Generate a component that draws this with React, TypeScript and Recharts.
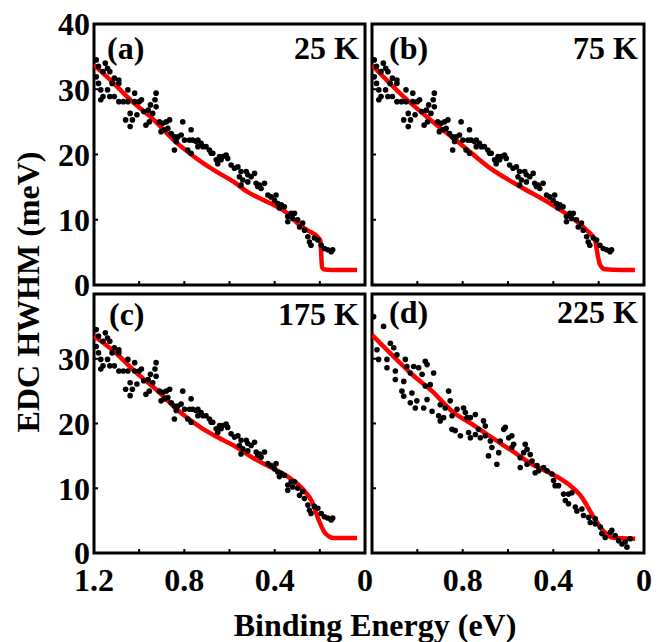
import React from 'react';
import { ComposedChart, Scatter, Line, XAxis, YAxis, ReferenceArea } from 'recharts';

const FONT = '"Liberation Serif", "Times New Roman", serif';

// tick values (binding energy in eV, width in meV)
const energyTicks = [0, 0.2, 0.4, 0.6, 0.8, 1.0, 1.2];
const widthTicks = [0, 10, 20, 30, 40];

// measured EDC widths, shared by the 25 K, 75 K and 175 K panels
const lowTPoints = [
  [1.19, 34.5], [1.18, 33.5], [1.15, 34.0], [1.16, 32.7], [1.13, 32.7], [1.14, 33.2], [1.19, 31.9],
  [1.18, 30.9], [1.17, 29.9], [1.16, 28.9], [1.17, 28.4], [1.14, 29.9], [1.12, 30.9], [1.11, 31.7],
  [1.09, 30.9], [1.09, 31.4], [1.13, 28.9], [1.11, 28.9], [1.09, 28.1], [1.07, 28.1], [1.05, 29.9],
  [1.05, 28.1], [1.02, 29.4], [1.02, 28.1], [1.0, 28.1], [0.99, 28.4], [1.04, 26.3], [1.06, 25.3],
  [1.03, 25.3], [1.04, 24.3], [1.01, 26.1], [0.98, 26.6], [0.96, 26.8], [0.95, 27.6], [0.93, 28.4],
  [0.925, 29.4], [0.925, 27.3], [0.94, 26.3], [0.97, 24.5], [0.955, 25.0], [0.91, 25.0], [0.895, 24.8],
  [0.88, 25.0], [0.865, 25.3], [0.888, 23.8], [0.873, 24.0], [0.903, 23.5], [0.858, 23.2], [0.844, 22.7],
  [0.829, 22.7], [0.807, 25.0], [0.814, 23.0], [0.836, 22.0], [0.844, 20.7], [0.799, 22.2], [0.77, 23.8],
  [0.777, 22.2], [0.763, 22.2], [0.748, 22.0], [0.74, 22.2], [0.726, 21.7], [0.785, 20.7], [0.77, 20.2],
  [0.74, 21.2], [0.718, 21.2], [0.704, 21.2], [0.689, 20.7], [0.681, 20.2], [0.674, 20.2], [0.644, 19.7],
  [0.63, 19.7], [0.615, 19.9], [0.608, 19.4], [0.659, 19.2], [0.637, 19.2], [0.652, 18.6], [0.593, 18.4],
  [0.578, 17.9], [0.563, 18.1], [0.549, 17.4], [0.556, 16.6], [0.541, 16.1], [0.526, 17.4], [0.519, 16.9],
  [0.504, 16.6], [0.489, 17.1], [0.549, 15.3], [0.519, 15.8], [0.482, 15.6], [0.467, 15.3], [0.445, 15.6],
  [0.46, 14.8], [0.475, 15.1], [0.43, 13.8], [0.416, 13.5], [0.394, 13.8], [0.401, 13.0], [0.386, 12.5],
  [0.371, 12.3], [0.357, 12.0], [0.379, 11.8], [0.342, 10.5], [0.327, 11.0], [0.312, 11.0], [0.32, 10.2],
  [0.342, 9.7], [0.298, 10.0], [0.276, 9.5], [0.29, 8.9], [0.268, 8.4], [0.253, 7.4], [0.246, 6.6],
  [0.239, 6.1], [0.224, 7.2], [0.209, 6.9], [0.194, 6.1], [0.18, 5.6], [0.165, 5.4], [0.15, 5.1],
  [0.143, 5.4],
];

const points225K = [
  [1.193, 36.5], [1.149, 35.0], [1.178, 31.4], [1.171, 29.9], [1.134, 29.9], [1.119, 32.4], [1.104, 31.7],
  [1.09, 30.6], [1.134, 28.6], [1.097, 28.1], [1.097, 26.8], [1.06, 26.5], [1.053, 29.9], [1.046, 28.8],
  [1.016, 28.8], [1.031, 27.8], [0.994, 28.6], [0.965, 29.6], [0.957, 29.1], [0.928, 27.8], [0.979, 27.6],
  [0.965, 25.8], [0.943, 26.0], [1.068, 25.0], [1.024, 24.7], [1.06, 24.2], [1.031, 23.2], [1.002, 23.5],
  [1.009, 22.4], [0.972, 22.4], [0.957, 23.7], [0.935, 21.9], [0.899, 22.9], [0.862, 25.0], [0.855, 23.5],
  [0.877, 22.4], [0.906, 21.2], [0.899, 20.4], [0.884, 20.9], [0.847, 21.2], [0.825, 22.2], [0.796, 22.4],
  [0.788, 21.7], [0.781, 20.9], [0.766, 20.9], [0.744, 21.4], [0.847, 19.1], [0.833, 18.9], [0.81, 18.1],
  [0.774, 18.6], [0.766, 17.8], [0.744, 18.3], [0.73, 19.1], [0.708, 20.4], [0.7, 19.6], [0.722, 17.8],
  [0.7, 18.1], [0.678, 17.3], [0.671, 16.3], [0.686, 15.0], [0.641, 15.5], [0.649, 13.7], [0.634, 17.3],
  [0.619, 19.1], [0.612, 19.4], [0.597, 17.8], [0.583, 18.1], [0.575, 16.8], [0.583, 16.3], [0.546, 14.7],
  [0.531, 15.5], [0.524, 16.8], [0.516, 16.0], [0.502, 15.2], [0.494, 14.2], [0.516, 13.7], [0.546, 13.2],
  [0.472, 13.5], [0.465, 12.7], [0.48, 12.4], [0.443, 13.2], [0.428, 12.7], [0.406, 12.2], [0.399, 11.2],
  [0.392, 10.4], [0.377, 10.4], [0.355, 9.1], [0.333, 9.1], [0.318, 9.3], [0.347, 8.1], [0.333, 7.6],
  [0.303, 7.1], [0.296, 6.5], [0.274, 6.8], [0.267, 5.8], [0.244, 5.5], [0.237, 4.7], [0.215, 5.3],
  [0.215, 4.5], [0.193, 4.0], [0.186, 3.0], [0.171, 2.4], [0.149, 3.2], [0.142, 3.5], [0.127, 2.7],
  [0.112, 1.9], [0.097, 1.4], [0.083, 1.7], [0.075, 0.9], [0.061, 2.2],
];

// fitted curves
const fit25K = [
  [1.2, 33.7], [1.127, 31.4], [1.04, 28.4], [0.935, 25.3], [0.847, 22.2], [0.758, 19.7], [0.669, 17.6],
  [0.581, 15.8], [0.522, 14.3], [0.448, 13.0], [0.389, 12.0], [0.345, 11.0], [0.3, 9.5], [0.256, 8.4],
  [0.205, 7.2], [0.198, 6.8], [0.19, 2.7], [0.184, 2.4], [0.15, 2.3], [0.1, 2.3], [0.035, 2.3],
];
const fit75K = [
  [1.2, 33.7], [1.062, 28.9], [0.959, 25.8], [0.812, 21.7], [0.679, 17.9], [0.547, 15.1], [0.415, 12.5],
  [0.326, 10.5], [0.253, 8.4], [0.216, 6.9], [0.206, 4.9], [0.194, 3.1], [0.172, 2.4], [0.1, 2.3], [0.04, 2.3],
];
const fit175K = [
  [1.2, 33.5], [1.097, 30.7], [1.024, 28.2], [0.92, 25.1], [0.817, 21.7], [0.728, 19.4], [0.654, 17.9],
  [0.581, 16.6], [0.492, 14.6], [0.404, 13.0], [0.33, 11.5], [0.271, 9.7], [0.234, 7.9], [0.205, 5.1],
  [0.175, 3.0], [0.138, 2.3], [0.035, 2.3],
];
const fit225K = [
  [1.2, 33.7], [1.112, 30.6], [1.024, 27.6], [0.935, 25.0], [0.847, 21.9], [0.759, 19.9], [0.671, 17.8],
  [0.583, 15.8], [0.494, 13.7], [0.406, 12.2], [0.333, 10.6], [0.274, 8.6], [0.23, 6.0], [0.186, 3.7],
  [0.142, 2.4], [0.039, 2.2],
];

const toPts = (arr: number[][]) => arr.map(([e, w]) => ({ e, w }));

const tickFont = { fill: '#000', fontSize: 32, fontFamily: FONT, fontWeight: 700 };
const tickStroke = { stroke: '#000', strokeWidth: 2 };

const only = (labels: number[]) => (v: number) =>
  labels.some((l) => Math.abs(l - v) < 1e-6) ? String(v) : '';

const Dot = (p: any) => <circle cx={p.cx} cy={p.cy} r={2.8} fill="#000" />;

type Frame = { x: number; y: number; w: number; h: number };

const Panel = ({
  frame,
  points,
  fit,
  xLabels,
  yLabels,
}: {
  frame: Frame;
  points: number[][];
  fit: number[][];
  xLabels: number[];
  yLabels: number[];
}) => {
  const padL = 80, padT = 22, padR = 12, padB = 56;
  const yW = 66, xH = 44;
  return (
    <div style={{ position: 'absolute', left: frame.x - padL, top: frame.y - padT }}>
      <ComposedChart
        width={frame.w + padL + padR}
        height={frame.h + padT + padB}
        margin={{ top: padT, right: padR, left: padL - yW, bottom: padB - xH }}
        style={{ overflow: 'visible' }}
      >
        <XAxis
          xAxisId="b"
          dataKey="e"
          type="number"
          domain={[0, 1.2]}
          reversed
          allowDataOverflow
          ticks={energyTicks}
          interval={0}
          height={xH}
          axisLine={false}
          tickSize={-4}
          tickMargin={19}
          tickLine={tickStroke}
          tick={tickFont}
          tickFormatter={only(xLabels)}
        />
        <XAxis
          xAxisId="t"
          orientation="top"
          type="number"
          domain={[0, 1.2]}
          reversed
          allowDataOverflow
          ticks={energyTicks}
          interval={0}
          height={0}
          axisLine={false}
          tickSize={-4}
          tickLine={tickStroke}
          tickFormatter={() => ''}
        />
        <YAxis
          yAxisId="l"
          dataKey="w"
          type="number"
          domain={[0, 40]}
          allowDataOverflow
          ticks={widthTicks}
          interval={0}
          width={yW}
          axisLine={false}
          tickSize={-4}
          tickMargin={8}
          tickLine={tickStroke}
          tick={tickFont}
          tickFormatter={only(yLabels)}
        />
        <YAxis
          yAxisId="r"
          orientation="right"
          type="number"
          domain={[0, 40]}
          allowDataOverflow
          ticks={widthTicks}
          interval={0}
          width={0}
          axisLine={false}
          tickSize={-4}
          tickLine={tickStroke}
          tickFormatter={() => ''}
        />
        <ReferenceArea
          xAxisId="b"
          yAxisId="l"
          x1={0}
          x2={1.2}
          y1={0}
          y2={40}
          fill="none"
          stroke="#000"
          strokeWidth={3}
          ifOverflow="visible"
        />
        <Scatter
          xAxisId="b"
          yAxisId="l"
          data={toPts(points)}
          shape={Dot}
          isAnimationActive={false}
        />
        <Line
          xAxisId="b"
          yAxisId="l"
          data={toPts(fit)}
          dataKey="w"
          type="monotone"
          stroke="#ff0000"
          strokeWidth={4.5}
          dot={false}
          isAnimationActive={false}
        />
      </ComposedChart>
    </div>
  );
};

const textStyle = { fontFamily: FONT, fontWeight: 700, fontSize: 32, fill: '#000' };

export default function App() {
  return (
    <div style={{ position: 'absolute', left: 0, top: 0, width: 667, height: 642, background: '#fff' }}>
      <Panel frame={{ x: 94, y: 24, w: 271, h: 261 }} points={lowTPoints} fit={fit25K} xLabels={[]} yLabels={[0, 10, 20, 30, 40]} />
      <Panel frame={{ x: 372, y: 24, w: 272, h: 261 }} points={lowTPoints} fit={fit75K} xLabels={[]} yLabels={[]} />
      <Panel frame={{ x: 94, y: 294, w: 271, h: 259 }} points={lowTPoints} fit={fit175K} xLabels={[1.2, 0.8, 0.4, 0]} yLabels={[0, 10, 20, 30]} />
      <Panel frame={{ x: 372, y: 294, w: 272, h: 259 }} points={points225K} fit={fit225K} xLabels={[0.8, 0.4, 0]} yLabels={[]} />
      <svg width={667} height={642} style={{ position: 'absolute', left: 0, top: 0, pointerEvents: 'none' }}>
        <text x={107} y={59} style={textStyle}>(a)</text>
        <text x={359} y={59} textAnchor="end" style={textStyle}>25 K</text>
        <text x={389} y={59} style={textStyle}>(b)</text>
        <text x={638} y={59} textAnchor="end" style={textStyle}>75 K</text>
        <text x={109} y={325} style={textStyle}>(c)</text>
        <text x={359} y={325} textAnchor="end" style={textStyle}>175 K</text>
        <text x={389} y={323} style={textStyle}>(d)</text>
        <text x={638} y={323} textAnchor="end" style={textStyle}>225 K</text>
        <text x={375} y={636} textAnchor="middle" style={textStyle}>Binding Energy (eV)</text>
        <text x={39} y={292} textAnchor="middle" transform="rotate(-90 39 292)" style={textStyle}>
          EDC HWHM (meV)
        </text>
      </svg>
    </div>
  );
}
